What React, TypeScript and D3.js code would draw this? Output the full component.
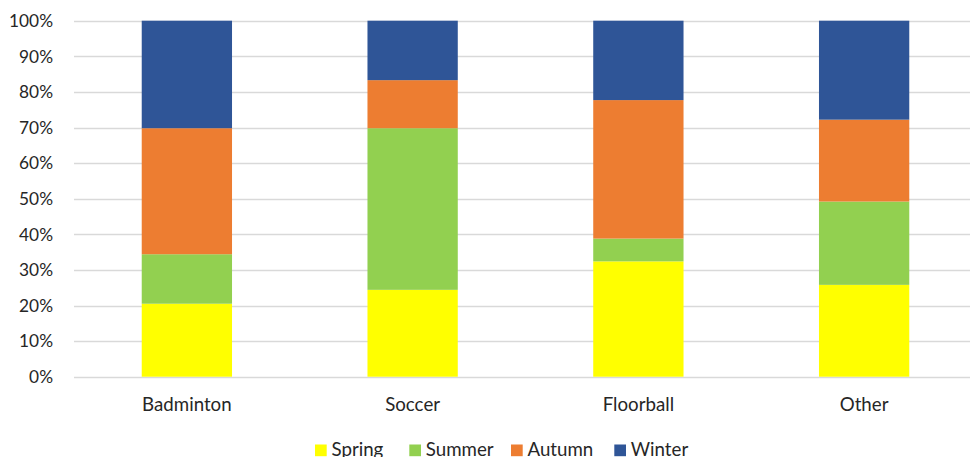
import React from "react";
import * as d3 from "d3";

const categories = ["Badminton", "Soccer", "Floorball", "Other"];
const seasons = ["Spring", "Summer", "Autumn", "Winter"];
// Share of each season per sport (percent)
const spring = [20.5, 24.4, 32.4, 25.8];
const summer = [13.9, 45.4, 6.4, 23.4];
const autumn = [35.4, 13.5, 38.9, 23.0];
const winter = [30.2, 16.7, 22.3, 27.8];
const yTicks = [0, 10, 20, 30, 40, 50, 60, 70, 80, 90, 100];

const colors = ["#FFFF00", "#92D050", "#ED7D31", "#2F5597"];
const FONT = "Lato, 'Open Sans', sans-serif";

export default function App() {
  const width = 970;
  const height = 457;
  const x = d3
    .scaleBand<string>()
    .domain(categories)
    .range([74, 977])
    .paddingInner(0.6)
    .paddingOuter(0.3);
  const y = d3.scaleLinear().domain([0, 100]).range([376.7, 20.7]);

  const rows = categories.map((c, i) => ({
    category: c,
    Spring: spring[i],
    Summer: summer[i],
    Autumn: autumn[i],
    Winter: winter[i],
  }));
  const stacked = d3.stack<any>().keys(seasons)(rows);

  const legendX = [315, 409.3, 511, 614.3];

  return (
    <svg
      width={width}
      height={height}
      style={{ position: "absolute", left: 0, top: 0, background: "#fff" }}
    >
      {yTicks.map((t) => (
        <g key={t}>
          <line
            x1={74}
            x2={width}
            y1={Math.round(y(t)) + 0.5}
            y2={Math.round(y(t)) + 0.5}
            stroke="#d9d9d9"
            strokeWidth={1.3}
          />
          <text
            x={53}
            y={y(t) + 6.3}
            textAnchor="end"
            fontFamily={FONT}
            fontSize={17.3}
            fill="#262626"
          >
            {t}%
          </text>
        </g>
      ))}
      {stacked.map((s, si) => (
        <g key={s.key} fill={colors[si]}>
          {s.map((d, i) => (
            <rect
              key={i}
              x={x(categories[i])}
              width={x.bandwidth()}
              y={y(d[1])}
              height={y(d[0]) - y(d[1])}
            />
          ))}
        </g>
      ))}
      {categories.map((c) => (
        <text
          key={c}
          x={(x(c) as number) + x.bandwidth() / 2}
          y={410.5}
          textAnchor="middle"
          fontFamily={FONT}
          fontSize={18.7}
          fill="#262626"
        >
          {c}
        </text>
      ))}
      {seasons.map((s, i) => (
        <g key={s}>
          <rect x={legendX[i]} y={444.5} width={11.7} height={11.7} fill={colors[i]} />
          <text
            x={legendX[i] + 16.5}
            y={455.8}
            fontFamily={FONT}
            fontSize={18.7}
            fill="#262626"
          >
            {s}
          </text>
        </g>
      ))}
    </svg>
  );
}
